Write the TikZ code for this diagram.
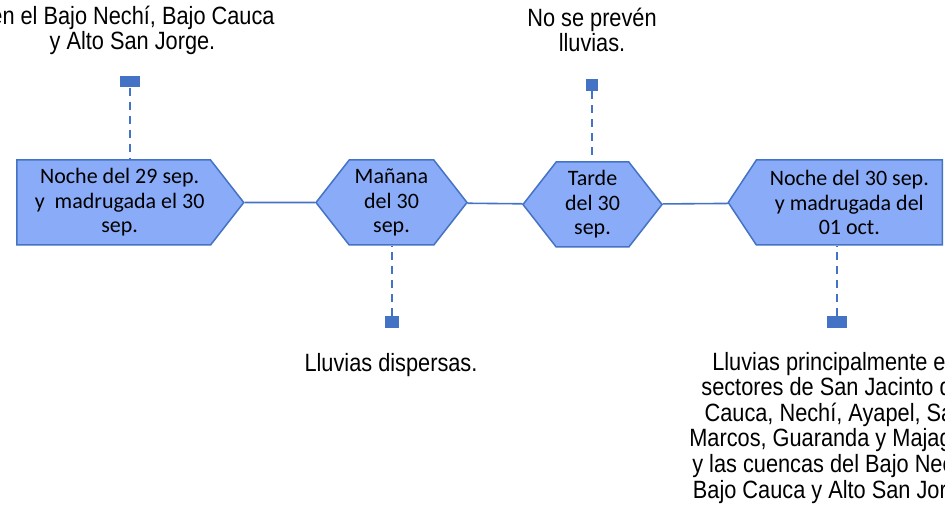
\documentclass[tikz,border=0pt]{standalone}
\usepackage{fontspec}
\setmainfont{Carlito}
\newfontfamily\narrowfont[FakeStretch=0.87]{Liberation Sans}
\usetikzlibrary{positioning, shapes.symbols}
\definecolor{officeblue}{HTML}{4472C4}
\definecolor{periodblue}{HTML}{8AACF8}
\tikzstyle{link} = [officeblue, line width=1.6bp]

\begin{document}
\begin{tikzpicture}[x=1bp, y=-1bp]
                \tikzstyle{every node}=[font=\fontsize{22bp}{24.5bp}\selectfont]
                \tikzstyle{period} = [signal, draw=officeblue, fill=periodblue, line width=1.5bp, minimum height=85bp, align=center, inner sep=0pt, signal pointer angle=104]
                \tikzstyle{marker} = [rectangle, fill=officeblue, inner sep=0pt]
                \tikzstyle{dashline} = [officeblue, line width=2.2bp, dash pattern=on 8bp off 6bp]
                \tikzstyle{note} = [font=\narrowfont\fontsize{25bp}{25.6bp}\selectfont, align=center, inner sep=0pt, anchor=base]

                \clip (0,0) rectangle (945,512);
                \fill[white] (0,0) rectangle (945,512);

                % time periods
                \node[period, signal to=east, minimum width=227bp, anchor=west](b1) at (16,202.5) {\hspace*{12bp}Noche del 29 sep.\\\hspace*{12bp}y\ \ madrugada el 30\\\hspace*{12bp}sep.};
                \node[period, signal to=east and west, minimum width=151bp](b2) at (391.5,202.5) {Mañana\\del 30\\sep.};
                \node[period, signal to=east and west, minimum width=139bp](b3) at (592.5,204.5) {Tarde\\del 30\\sep.};
                \node[period, signal to=west, minimum width=214bp, anchor=east, signal pointer angle=113](b4) at (943,202.5) {Noche del 30 sep.\\y madrugada del\\01 oct.};

                \draw[link] (b1) -- (b2);
                \draw[link] (b2) -- (b3);
                \draw[link] (b3) -- (b4);

                % markers and callouts
                \node[marker, minimum width=20bp, minimum height=11bp](m1) at (130,82) {};
                \node[marker, minimum width=14bp, minimum height=12bp](m2) at (392,322) {};
                \node[marker, minimum width=12bp, minimum height=12bp](m3) at (592,85) {};
                \node[marker, minimum width=20bp, minimum height=12bp](m4) at (837,322) {};

                \draw[dashline] (m1) -- (m1 |- b1.north);
                \draw[dashline] (m2) -- (m2 |- b2.south);
                \draw[dashline] (m3) -- (m3 |- b3.north);
                \draw[dashline] (m4) -- (m4 |- b4.south);

                % rain notes
                \node[note](t1) at (132.5,50) {en el Bajo Nechí, Bajo Cauca\\y Alto San Jorge.};
                \node[note](t2) at (391,372) {Lluvias dispersas.};
                \node[note](t3) at (592,52) {No se prevén\\lluvias.};
                \node[note](t4) at (835,498) {Lluvias principalmente en\\sectores de San Jacinto del\\Cauca, Nechí, Ayapel, San\\Marcos, Guaranda y Majagual\\y las cuencas del Bajo Nechí,\\Bajo Cauca y Alto San Jorge.};
        \end{tikzpicture}
\end{document}
